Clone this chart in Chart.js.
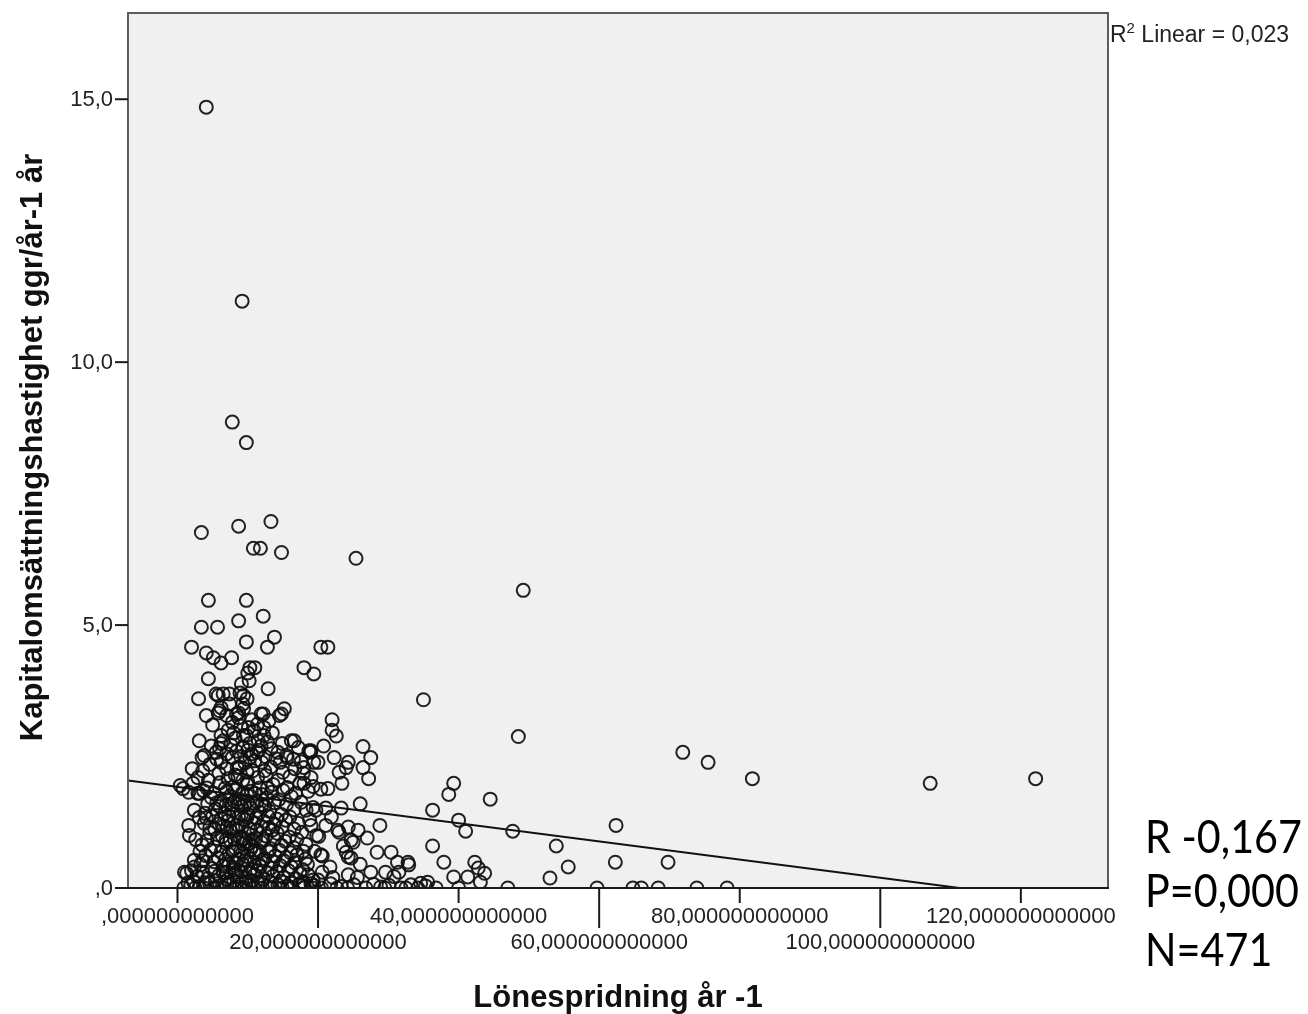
<!DOCTYPE html>
<html>
<head>
<meta charset="utf-8">
<script src="https://cdn.jsdelivr.net/npm/chart.js@4.4.1/dist/chart.umd.min.js"></script>
<style>
  html, body { margin: 0; padding: 0; background: #ffffff; }
  #wrap { position: relative; width: 1308px; height: 1014px; overflow: hidden; }
  canvas { position: absolute; left: 0; top: 0; }
</style>
</head>
<body>
<div id="wrap"><canvas id="c" width="1308" height="1014"></canvas></div>
<script>
// ---------------- DATA ----------------
const xTitle = 'Lönespridning år -1';
const yTitle = 'Kapitalomsättningshastighet ggr/år-1 år';
const fitLabel = ['R', '2', ' Linear = 0,023'];
const statLines = ['R -0,167', 'P=0,000', 'N=471'];

const xTickValues = [0, 20, 40, 60, 80, 100, 120];
const xTickLabels = [',000000000000', '20,000000000000', '40,000000000000', '60,000000000000',
                     '80,000000000000', '100,000000000000', '120,000000000000'];
const yTickValues = [0, 5, 10, 15];
const yTickLabels = [',0', '5,0', '10,0', '15,0'];

const xRange = [-7.04, 132.4];
const yRange = [0, 16.64];

// linear fit line (Linear, R² = 0,023)
const fitLine = [[-7.04, 2.045], [132.4, -0.365]];

// observations [Lönespridning, Kapitalomsättningshastighet]
const upperPoints = [
  [4.1,14.85],[9.2,11.16],[7.8,8.86],[9.8,8.47],[3.4,6.76],[8.7,6.88],[13.3,6.97],[10.8,6.46],
  [11.8,6.46],[14.8,6.38],[25.4,6.27],[49.2,5.66],[4.4,5.47],[9.8,5.47],[12.2,5.17],[8.7,5.08],
  [3.4,4.96],[5.7,4.96],[13.8,4.77],[2.0,4.58],[4.1,4.47],[5.1,4.38],[6.2,4.28],[9.8,4.68],
  [12.8,4.58],[7.7,4.38],[10.3,4.19],[11.0,4.19],[10.0,4.09],[20.4,4.58],[21.4,4.58],[18.0,4.19],
  [19.4,4.07],[35.0,3.58],[4.4,3.98],[9.1,3.88],[10.2,3.94],[3.0,3.60],[5.5,3.69],[6.5,3.69],
  [7.4,3.50],[8.9,3.71],[9.9,3.60],[12.9,3.79],[9.4,3.66],[5.8,3.66],[7.4,3.69],[9.3,3.50]
];
const corePoints = [
  [4.1,3.28],[8.7,3.33],[8.7,3.24],[14.8,3.31],[15.2,3.41],[6.2,3.43],[5.8,3.33],[12.2,3.31],
  [7.0,3.28],[11.9,3.31],[6.0,3.37],[14.5,3.28],[9.4,3.41],[8.4,3.31],
  [3.1,2.80],[6.2,2.90],[6.2,2.75],[9.8,2.90],[12.3,3.05],[12.3,2.90],[16.6,2.80],[10.1,3.05],
  [10.9,2.99],[11.5,2.80],[9.4,2.90],[8.0,2.95],[13.5,2.95],[7.2,3.00],[6.5,2.80],[16.2,2.80],
  [19.0,2.61],[13.3,2.65],[14.3,2.58],[17.2,2.67],[6.0,2.65],[3.8,2.52],[10.5,2.55],[11.6,2.62],
  [8.4,2.60],[15.5,2.52],[12.5,2.50],[9.0,2.50],[7.0,2.55],[16.5,2.45],[18.7,2.61],[19.4,2.39],
  [18.0,2.29],[19.0,2.10],[18.0,1.99],
  [6.2,2.39],[7.8,2.48],[7.0,2.27],[8.5,2.29],[10.3,2.48],[11.3,2.58],[12.0,2.39],[10.7,2.23],
  [12.4,2.23],[14.6,2.39],[15.6,2.48],[16.7,2.27],[15.0,2.20],[3.5,2.48],[2.1,2.27],[3.6,2.23],
  [0.4,1.95],[2.2,1.99],[4.2,1.90],[6.0,2.00],[7.9,1.92],[9.9,1.98],[11.7,1.90],[13.6,1.97],
  [15.6,1.91],[17.4,1.99],[19.3,1.93],[0.8,1.89],[2.9,1.80],
  [3.1,1.80],[4.8,1.72],[6.2,1.66],[7.5,1.75],[8.8,1.69],[9.9,1.77],[11.3,1.64],[12.7,1.71],
  [14.4,1.68],[16.2,1.74],
  [2.4,1.48],[3.9,1.42],[5.4,1.50],[6.7,1.41],[7.9,1.47],[9.1,1.39],[10.4,1.52],[11.7,1.44],
  [13.1,1.46],[14.8,1.40],[16.6,1.49],
  [3.1,1.34],[4.1,1.33],[5.9,1.22],[7.2,1.28],[8.5,1.20],[9.6,1.30],[10.9,1.24],[12.3,1.27],
  [13.8,1.21],[15.4,1.29],[17.2,1.23],[3.8,1.23],
  [1.6,1.19],[1.7,1.00],[4.6,1.05],[6.4,0.98],[7.6,1.08],[8.9,0.96],[10.1,1.03],[11.3,1.10],
  [12.6,0.99],[14.2,1.04],[15.9,0.97],[17.7,1.06],
  [3.5,0.82],[5.3,0.78],[6.9,0.85],[8.2,0.76],[9.4,0.84],[10.6,0.79],[11.9,0.87],[13.2,0.75],
  [14.8,0.81],[16.5,0.77],[18.3,0.83],
  [2.4,0.53],[4.0,0.62],[5.8,0.57],[7.3,0.64],[8.7,0.55],[9.9,0.60],[11.2,0.66],[12.4,0.56],
  [13.9,0.61],[15.5,0.58],[17.0,0.63],
  [2.4,0.40],[3.3,0.44],[4.9,0.37],[6.5,0.42],[7.9,0.39],[9.3,0.45],[10.5,0.36],[11.8,0.41],
  [13.3,0.38],[14.6,0.43],[16.2,0.40],[17.8,0.35],
  [1.0,0.30],[1.3,0.28],[2.8,0.22],[4.3,0.18],[5.9,0.24],[7.1,0.16],[8.5,0.21],[9.7,0.19],
  [11.0,0.25],[12.2,0.17],[13.6,0.23],[15.1,0.20],[16.8,0.18],
  [1.9,0.06],[3.1,0.03],[4.6,0.08],[6.0,0.04],[7.4,0.07],[8.8,0.02],[10.2,0.05],[11.5,0.09],
  [12.8,0.03],[14.3,0.06],[15.7,0.04],[17.3,0.07],
  [2.5,0],[3.8,0],[5.2,0],[6.6,0],[8.1,0],[9.5,0],[10.8,0],[12.1,0],[13.5,0],[14.9,0],[16.3,0],
  [17.9,0],[19.2,0],
  [7.7,1.58],[8.4,1.10],[9.0,0.70],[9.9,1.35],[10.3,0.30],[8.0,0.50],[11.0,1.80],[9.3,2.05],
  [7.5,0.90],[10.7,0.92],[8.6,1.62],[9.8,0.12],[11.6,0.45],[7.0,1.15],[10.0,1.65],[8.8,2.30],
  [12.0,1.58],[6.5,0.30],[9.4,0.95],[10.9,0.68],[6.8,1.90],[8.2,2.15],[11.4,2.10],[12.8,1.90],
  [6.0,1.55],[13.0,1.15],[7.3,0.45],[10.2,0.85],[9.1,1.55],[8.3,0.30],
  [19.5,0.70],[18.8,1.30],[19.8,1.00],[18.5,0.45],[20.0,0.15]
];
const coreLayerPoints = [
  [5.0,3.10],[7.8,3.15],[9.0,3.08],[10.6,3.20],[11.4,3.12],[13.0,3.18],[8.2,2.85],[10.3,2.75],[11.9,2.70],
  [4.8,2.70],[7.6,2.72],[9.3,2.68],[12.8,2.78],[14.9,2.75],[5.5,2.58],[10.0,2.62],
  [4.6,2.35],[5.6,2.45],[9.6,2.38],[11.0,2.42],[13.3,2.30],[14.0,2.46],[17.6,2.40],[9.9,2.20],
  [2.9,2.10],[4.4,2.05],[5.9,2.18],[7.2,2.08],[8.6,2.12],[10.0,2.02],[12.6,2.14],[14.3,2.05],
  [16.0,2.12],[17.9,2.18],
  [1.6,1.82],[3.7,1.85],[5.2,1.80],[7.0,1.83],[8.2,1.86],[9.2,1.80],[10.5,1.84],[12.0,1.78],
  [13.4,1.82],[15.0,1.86],[16.8,1.80],[18.6,1.84],
  [4.3,1.60],[5.6,1.62],[6.9,1.57],[8.1,1.64],[9.5,1.58],[10.8,1.61],[12.4,1.56],[13.8,1.62],
  [15.5,1.59],[17.6,1.63],
  [5.0,1.36],[6.2,1.32],[7.3,1.38],[8.7,1.35],[10.0,1.40],[11.2,1.33],[12.9,1.37],[14.1,1.31],[16.0,1.35],
  [4.6,1.15],[5.3,1.12],[6.6,1.18],[7.9,1.14],[9.2,1.16],[10.4,1.12],[11.9,1.17],[13.5,1.10],
  [14.9,1.16],[16.6,1.12],
  [2.6,0.92],[4.2,0.90],[5.7,0.94],[6.9,0.91],[8.1,0.93],[9.7,0.88],[11.1,0.94],[12.2,0.90],
  [13.8,0.93],[15.3,0.89],[17.0,0.92],
  [3.2,0.70],[4.7,0.72],[6.2,0.68],[7.8,0.71],[9.2,0.66],[10.4,0.73],[11.7,0.70],[13.0,0.69],
  [14.5,0.72],[16.1,0.67],[17.9,0.70],
  [3.6,0.52],[5.2,0.50],[6.8,0.54],[8.3,0.48],[9.6,0.52],[10.9,0.49],[12.1,0.53],[13.6,0.50],
  [15.1,0.52],[16.7,0.48],[18.2,0.55],
  [2.0,0.33],[3.6,0.30],[5.3,0.32],[6.9,0.29],[8.0,0.34],[9.1,0.31],[11.4,0.33],[12.8,0.29],
  [14.2,0.31],[15.8,0.33],[17.4,0.29],
  [2.3,0.12],[3.9,0.10],[5.4,0.14],[6.7,0.11],[8.0,0.13],[9.2,0.10],[10.6,0.14],[11.9,0.12],
  [13.2,0.11],[14.7,0.13],[16.1,0.10],[17.8,0.12],[19.0,0.08]
];
const midPoints = [
  [22.0,3.20],[22.0,3.00],[22.6,2.89],[18.9,2.58],[20.0,2.39],[26.4,2.69],[27.5,2.48],[22.3,2.48],
  [24.3,2.39],[24.0,2.29],[26.4,2.29],[27.2,2.08],[23.4,1.99],[20.4,1.88],[21.4,1.89],[28.8,1.19],
  [25.7,1.10],[23.0,1.06],[24.3,1.16],[20.1,0.98],[21.1,1.19],[19.0,1.19],[23.3,1.52],[21.1,1.52],
  [19.3,1.53],[18.3,1.48],[19.7,1.48],[25.0,0.87],[24.7,0.91],[20.6,0.61],[24.3,0.59],[24.0,0.68],
  [24.7,0.57],[28.4,0.68],[30.4,0.68],[32.8,0.49],[32.9,0.44],[31.3,0.49],[31.5,0.30],[27.5,0.30],
  [29.6,0.30],[30.8,0.22],[20.6,0.30],[24.3,0.25],[18.6,0.25],[19.3,0.15],[20.4,0.63],[22.8,1.10],
  [21.7,0.40],[23.6,0.80],[26.0,0.45],[22.1,0.20],[25.6,0.20],[27.0,0.95],[21.9,1.35],[26.0,1.60],
  [23.0,2.20],[20.8,2.70]
];
const rightPoints = [
  [48.5,2.88],[71.9,2.58],[75.5,2.39],[81.8,2.08],[107.1,1.99],[122.1,2.08],[39.3,1.99],[38.6,1.78],
  [44.5,1.69],[36.3,1.48],[40.0,1.29],[41.0,1.08],[47.7,1.08],[62.4,1.19],[36.3,0.80],[53.9,0.80],
  [62.3,0.49],[69.8,0.49],[55.6,0.40],[53.0,0.19],[59.7,0],[64.8,0],[66.0,0],[68.4,0],[73.9,0],
  [78.2,0],[47.0,0],[42.8,0.38],[42.3,0.49],[43.7,0.28],[37.9,0.49],[39.3,0.21],[41.3,0.21],
  [40.0,0],[43.1,0.11],[35.6,0.11],[34.6,0.09]
];
const baselinePoints = [
  [18.0,0.08],[19.4,0.05],[21.8,0.08],[23.3,0.03],[25.1,0.06],[26.8,0],[27.9,0.07],[28.9,0.02],
  [30.1,0.05],[31.8,0],[33.2,0.06],[34.2,0],[35.3,0.04],[20.5,0],[22.7,0],[24.2,0],[29.5,0],
  [32.5,0],[36.8,0],[0.9,0],[1.5,0.10]
];

// ---------------- DRAWING ----------------
const observations = [].concat(upperPoints, corePoints, coreLayerPoints, midPoints, rightPoints, baselinePoints)
  .map(([x, y]) => ({ x, y }));

const SANS = '"Liberation Sans", Arial, sans-serif';

const spssPlugin = {
  id: 'spssFrame',
  beforeDatasetsDraw(chart) {
    const { ctx, chartArea: a } = chart;
    ctx.save();
    ctx.fillStyle = '#f0f0f0';
    ctx.fillRect(a.left, a.top, a.right - a.left, a.bottom - a.top);
    ctx.restore();
  },
  afterDatasetsDraw(chart) {
    const { ctx, chartArea: a, scales } = chart;
    const xs = scales.x, ys = scales.y;
    ctx.save();
    // frame
    ctx.strokeStyle = '#5c5c5c';
    ctx.lineWidth = 2;
    ctx.beginPath();
    ctx.moveTo(a.left, a.bottom);
    ctx.lineTo(a.left, a.top);
    ctx.lineTo(a.right, a.top);
    ctx.lineTo(a.right, a.bottom);
    ctx.stroke();
    ctx.strokeStyle = '#1a1a1a';
    ctx.beginPath();
    ctx.moveTo(a.left - 1, a.bottom);
    ctx.lineTo(a.right + 1, a.bottom);
    ctx.stroke();

    // y ticks
    ctx.fillStyle = '#222';
    ctx.font = '22px ' + SANS;
    ctx.textAlign = 'right';
    ctx.textBaseline = 'middle';
    yTickValues.forEach((v, i) => {
      const py = ys.getPixelForValue(v);
      ctx.beginPath();
      ctx.moveTo(a.left - 13, py);
      ctx.lineTo(a.left, py);
      ctx.stroke();
      ctx.fillText(yTickLabels[i], a.left - 15, py + 1);
    });

    // x ticks (staggered)
    ctx.textAlign = 'center';
    xTickValues.forEach((v, i) => {
      const px = xs.getPixelForValue(v);
      const low = i % 2 === 1;
      ctx.beginPath();
      ctx.moveTo(px, a.bottom);
      ctx.lineTo(px, a.bottom + (low ? 40 : 15));
      ctx.stroke();
      ctx.fillText(xTickLabels[i], px, a.bottom + (low ? 55 : 29));
    });

    // axis titles
    ctx.fillStyle = '#111';
    ctx.font = 'bold 31px ' + SANS;
    ctx.textBaseline = 'alphabetic';
    ctx.textAlign = 'center';
    ctx.fillText(xTitle, (a.left + a.right) / 2, 1007);
    ctx.save();
    ctx.translate(42, (a.top + a.bottom) / 2 - 3);
    ctx.rotate(-Math.PI / 2);
    ctx.fillText(yTitle, 0, 0);
    ctx.restore();

    // R² Linear label
    ctx.textAlign = 'left';
    ctx.fillStyle = '#222';
    let tx = a.right + 2;
    const base = 42;
    ctx.font = '23px ' + SANS;
    ctx.fillText(fitLabel[0], tx, base);
    tx += ctx.measureText(fitLabel[0]).width;
    ctx.font = '15px ' + SANS;
    ctx.fillText(fitLabel[1], tx, base - 9);
    tx += ctx.measureText(fitLabel[1]).width;
    ctx.font = '23px ' + SANS;
    ctx.fillText(fitLabel[2], tx, base);

    // statistics text
    ctx.fillStyle = '#000';
    ctx.font = '46px Lato, "Noto Sans", sans-serif';
    const w0 = ctx.measureText(statLines[0]).width;
    const sx = 157 / w0;
    const baselines = [853, 907, 966];
    statLines.forEach((t, i) => {
      ctx.save();
      ctx.translate(1145, baselines[i]);
      ctx.scale(sx, 1);
      ctx.fillText(t, 0, 0);
      ctx.restore();
    });
    ctx.restore();
  }
};

new Chart(document.getElementById('c').getContext('2d'), {
  type: 'scatter',
  data: {
    datasets: [
      {
        type: 'line',
        label: 'Fit',
        data: fitLine.map(([x, y]) => ({ x, y })),
        borderColor: '#111',
        borderWidth: 2,
        pointRadius: 0,
        fill: false,
        tension: 0,
        clip: 0,
        order: 0
      },
      {
        type: 'scatter',
        label: 'Observationer',
        data: observations,
        pointStyle: 'circle',
        pointRadius: 6.5,
        borderWidth: 2,
        borderColor: 'rgba(15,15,15,0.92)',
        backgroundColor: 'rgba(0,0,0,0)',
        clip: 0,
        order: 1
      }
    ]
  },
  options: {
    responsive: false,
    animation: false,
    devicePixelRatio: 1,
    events: [],
    layout: { padding: { left: 128, top: 13, right: 200, bottom: 126 } },
    scales: {
      x: { type: 'linear', display: false, min: xRange[0], max: xRange[1] },
      y: { type: 'linear', display: false, min: yRange[0], max: yRange[1] }
    },
    plugins: { legend: { display: false }, tooltip: { enabled: false } }
  },
  plugins: [spssPlugin]
});
</script>
</body>
</html>
